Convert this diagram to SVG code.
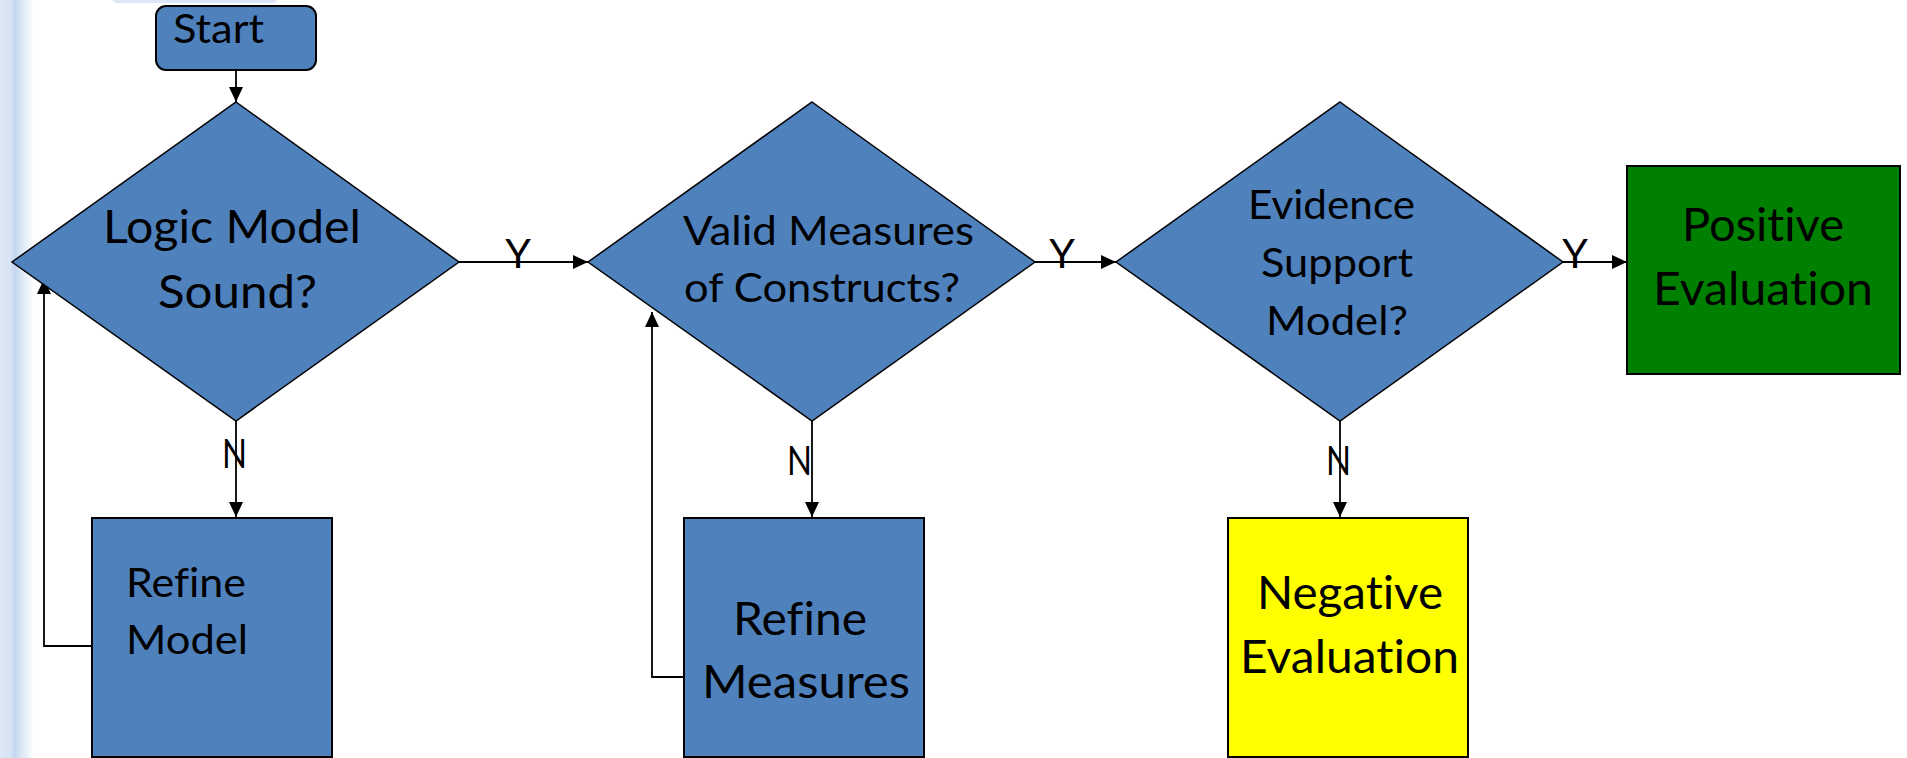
<svg xmlns="http://www.w3.org/2000/svg" width="1907" height="758" viewBox="0 0 1907 758">
  <defs>
    <linearGradient id="edgeShade" x1="0" y1="0" x2="1" y2="0">
      <stop offset="0" stop-color="#dfe9f7"/>
      <stop offset="0.3" stop-color="#d6e3f4"/>
      <stop offset="0.45" stop-color="#c3d6f0"/>
      <stop offset="0.65" stop-color="#dde8f6"/>
      <stop offset="1" stop-color="#ffffff"/>
    </linearGradient>
    <marker id="arrow" viewBox="0 0 15 14" refX="15" refY="7" markerWidth="15" markerHeight="14" markerUnits="userSpaceOnUse" orient="auto">
      <path d="M0,0 L15,7 L0,14 Z" fill="#000"/>
    </marker>
    <style>
      .decision { fill: #4f81bd; stroke: #000; stroke-width: 1.5; }
      .process { stroke: #000; stroke-width: 2; }
      .blue { fill: #4f81bd; }
      .green { fill: #008000; }
      .yellow { fill: #ffff00; }
      .label { font-family: Lato, "Open Sans", "Liberation Sans", sans-serif; fill: #000; font-variant-ligatures: none; font-feature-settings: "liga" 0; }
      .s41 { font-size: 41px; }
      .s46 { font-size: 46px; }
      .conn line, .conn polyline { fill: none; stroke: #000; stroke-width: 1.8; marker-end: url(#arrow); }
    </style>
  </defs>

  <rect width="1907" height="758" fill="#ffffff"/>
  <!-- slide edge shading -->
  <rect x="0" y="0" width="34" height="758" fill="url(#edgeShade)"/>
  <rect x="113" y="-6" width="164" height="9" rx="4" fill="#dce6f4"/>

  <!-- connectors -->
  <g id="connectors" class="conn">
    <line x1="236" y1="70" x2="236" y2="102"/>
    <line x1="459" y1="262" x2="588" y2="262"/>
    <line x1="1035" y1="262" x2="1116" y2="262"/>
    <line x1="1563" y1="262" x2="1627" y2="262"/>
    <line x1="236" y1="421" x2="236" y2="517"/>
    <line x1="812" y1="421" x2="812" y2="517"/>
    <line x1="1340" y1="421" x2="1340" y2="517"/>
    <polyline points="92,646 44,646 44,279"/>
    <polyline points="684,677 652,677 652,312"/>
  </g>

  <!-- edge labels -->
  <g id="edge-labels" class="label s41">
    <text x="518" y="268" text-anchor="middle">Y</text>
    <text x="1062" y="268" text-anchor="middle">Y</text>
    <text x="1575" y="268" text-anchor="middle">Y</text>
    <text x="222" y="468" textLength="25" lengthAdjust="spacingAndGlyphs">N</text>
    <text x="787" y="475" textLength="25" lengthAdjust="spacingAndGlyphs">N</text>
    <text x="1326" y="475" textLength="25" lengthAdjust="spacingAndGlyphs">N</text>
  </g>

  <g id="start">
    <rect class="process blue" x="156" y="6" width="160" height="64" rx="10"/>
    <text class="label s41" x="173" y="43" textLength="91" lengthAdjust="spacingAndGlyphs">Start</text>
  </g>

  <g id="logic-model-sound">
    <polygon class="decision" points="236,102 459,262 236,421 12,262"/>
    <text class="label s46" x="103" y="243" textLength="258" lengthAdjust="spacingAndGlyphs">Logic Model</text>
    <text class="label s46" x="158" y="308" textLength="159" lengthAdjust="spacingAndGlyphs">Sound?</text>
  </g>

  <g id="valid-measures">
    <polygon class="decision" points="812,102 1035,262 812,421 588,262"/>
    <text class="label s41" x="683" y="245" textLength="291" lengthAdjust="spacingAndGlyphs">Valid Measures</text>
    <text class="label s41" x="684" y="302" textLength="276" lengthAdjust="spacingAndGlyphs">of Constructs?</text>
  </g>

  <g id="evidence-support">
    <polygon class="decision" points="1340,102 1563,262 1340,421 1116,262"/>
    <text class="label s41" x="1248" y="219" textLength="167" lengthAdjust="spacingAndGlyphs">Evidence</text>
    <text class="label s41" x="1261" y="277" textLength="152" lengthAdjust="spacingAndGlyphs">Support</text>
    <text class="label s41" x="1266" y="335" textLength="142" lengthAdjust="spacingAndGlyphs">Model?</text>
  </g>

  <g id="positive-evaluation">
    <rect class="process green" x="1627" y="166" width="273" height="208"/>
    <text class="label s46" x="1682" y="241" textLength="162" lengthAdjust="spacingAndGlyphs">Positive</text>
    <text class="label s46" x="1653" y="305" textLength="220" lengthAdjust="spacingAndGlyphs">Evaluation</text>
  </g>

  <g id="refine-model">
    <rect class="process blue" x="92" y="518" width="240" height="239"/>
    <text class="label s41" x="126" y="597" textLength="120" lengthAdjust="spacingAndGlyphs">Refine</text>
    <text class="label s41" x="126" y="654" textLength="122" lengthAdjust="spacingAndGlyphs">Model</text>
  </g>

  <g id="refine-measures">
    <rect class="process blue" x="684" y="518" width="240" height="239"/>
    <text class="label s46" x="733" y="635" textLength="134" lengthAdjust="spacingAndGlyphs">Refine</text>
    <text class="label s46" x="702" y="698" textLength="208" lengthAdjust="spacingAndGlyphs">Measures</text>
  </g>

  <g id="negative-evaluation">
    <rect class="process yellow" x="1228" y="518" width="240" height="239"/>
    <text class="label s46" x="1257" y="609" textLength="186" lengthAdjust="spacingAndGlyphs">Negative</text>
    <text class="label s46" x="1240" y="673" textLength="219" lengthAdjust="spacingAndGlyphs">Evaluation</text>
  </g>
</svg>
